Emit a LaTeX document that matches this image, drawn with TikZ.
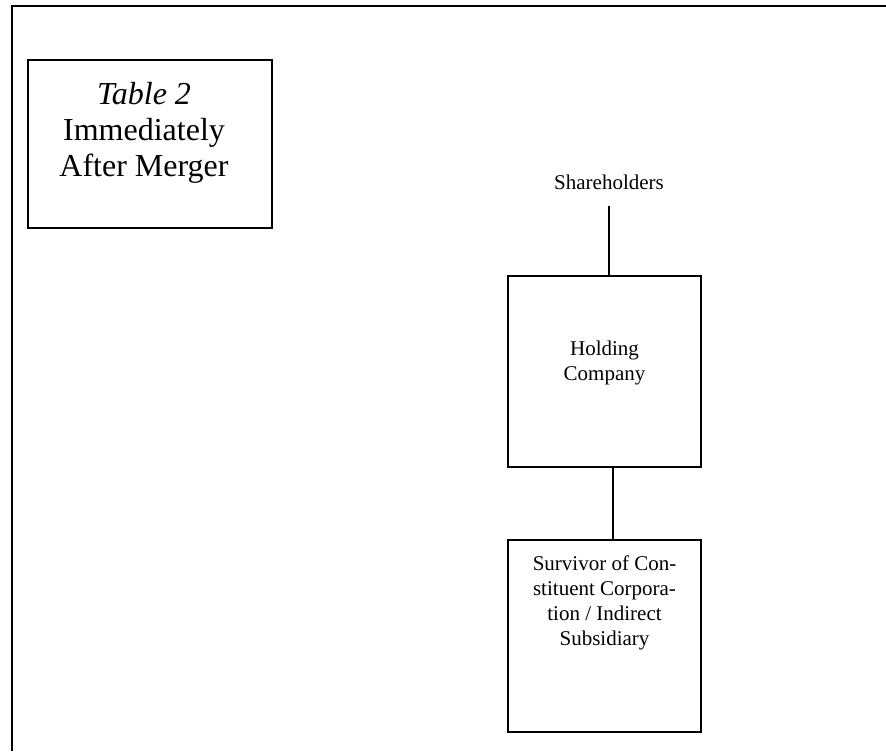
\documentclass[tikz,border=0pt]{standalone}
\usepackage{fontspec}
\setmainfont{Liberation Serif}
\usetikzlibrary{calc}
\tikzset{>=latex}
\tikzset{
  frame/.style={line width=1pt},
  chartbox/.style={draw,line width=0.8pt,inner sep=0pt,
    minimum width=96.5pt,minimum height=95.5pt},
  boxtext/.style={align=center,inner sep=0pt,
    font=\fontsize{10.5}{12.5}\selectfont}
}

\begin{document}
\begin{tikzpicture}[x=0.5pt,y=-0.5pt]
      \useasboundingbox (0,0) rectangle (886,751);

      \draw [frame] (12,751) -- (12,6) -- (886,6);

      \node [draw,line width=0.8pt,inner sep=0pt,minimum width=122pt,
      minimum height=84pt] (title) at (150,144) {};

      \node [align=center,inner sep=0pt,
      font=\fontsize{16}{18}\selectfont] (titletext) at (144,133)
      {\textit{Table 2}\\Immediately\\After Merger};

      \node [boxtext,inner ysep=8pt] (share) at (609,182) {Shareholders};

      \node [chartbox] (holding) at (604.5,371.5) {};
      \node [boxtext] (holdingtext) at (604.5,363) {Holding\\Company};

      \node [chartbox,minimum height=96pt] (surv) at (604.5,636) {};
      \node [boxtext] (survtext) at (604.5,603)
      {Survivor of Con-\\stituent Corpora-\\tion / Indirect\\Subsidiary};

      \draw [line width=0.8pt] (share.south) -- (share.south |- holding.north);
      \draw [line width=0.8pt] ([xshift=4.25pt]holding.south) --
      ([xshift=4.25pt]surv.north);
  \end{tikzpicture}
\end{document}
